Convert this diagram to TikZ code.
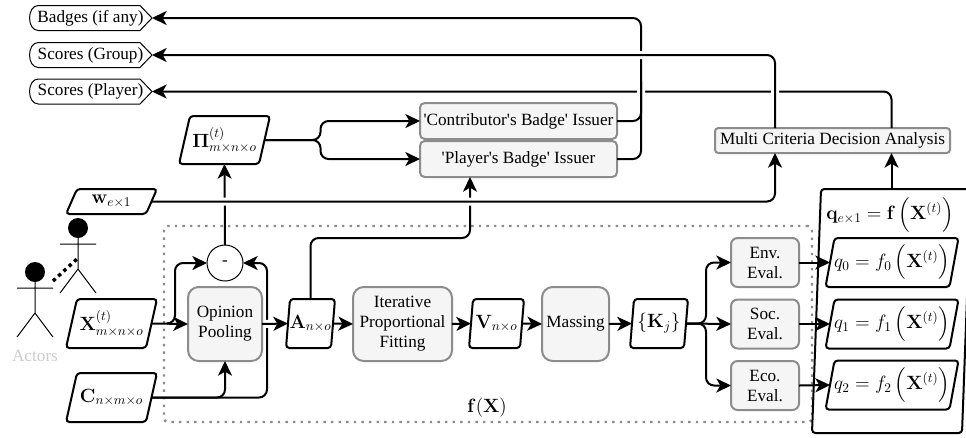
\documentclass[tikz,border=0pt]{standalone}
\usepackage[no-math]{fontspec}
\usepackage{amsmath}
\setmainfont{Liberation Serif}
\usetikzlibrary{arrows.meta, calc}
\definecolor{procfill}{HTML}{F5F5F5}
\definecolor{procline}{HTML}{8C8C8C}
\definecolor{actorgray}{HTML}{CCCCCC}
\tikzset
{
boxsize/.style 2 args={minimum width=#1*0.75pt, minimum height=#2*0.75pt},
base/.style={inner sep=0pt, outer sep=0pt, align=center, font=\fontsize{12.9}{15}\selectfont},
proc/.style={base, draw=procline, fill=procfill, line width=1.5pt, rounded corners=#1},
proc/.default=7pt,
datum/.style={base, font=\fontsize{13.6}{15}\selectfont, append after command={\pgfextra{
	\draw[line width=1.5pt, rounded corners=2.5pt]
	([xshift=-#1*0.375pt]\tikzlastnode.south west) -- ([xshift=#1*0.375pt]\tikzlastnode.north west)
	-- ([xshift=#1*0.375pt]\tikzlastnode.north east) -- ([xshift=-#1*0.375pt]\tikzlastnode.south east) -- cycle;
}}},
datum/.default=11,
qnode/.style={datum=9, font=\fontsize{14}{15}\selectfont},
output/.style={base, append after command={\pgfextra{
	\draw[line width=0.75pt]
	([xshift=7pt]\tikzlastnode.north west) -- ([xshift=-9pt]\tikzlastnode.north east)
	-- (\tikzlastnode.east) -- ([xshift=-9pt]\tikzlastnode.south east)
	-- ([xshift=7pt]\tikzlastnode.south west) to[out=180, in=180, looseness=1.2] cycle;
}}},
flow/.style={line width=1.5pt, rounded corners=6pt, -{Stealth[length=11pt, width=10.5pt, inset=3pt]}},
wire/.style={line width=1.5pt, rounded corners=6pt},
halo/.style={preaction={draw=white, line width=6pt, -, shorten >=8pt, shorten <=2pt}},
actor/.pic={
	\fill (0,0) circle (7.5pt);
	\draw[line width=0.75pt] (0,0) -- (0,41) (-18,16) -- (18,16) (-18,65) -- (0,41) -- (18,65);
	\coordinate (-reach) at (18,9);
	\coordinate (-waist) at (0,30);
}
}

\begin{document}
\begin{tikzpicture}[x=0.75pt, y=-0.75pt]
	\path[use as bounding box, clip] (0,0) rectangle (966,437);

	% f(X) frame
	\node[base, boxsize={648}{196}, draw=procline, line width=1.8pt, dash pattern=on 1.8pt off 3.9pt, rounded corners=3pt] (frame) at (488,324) {};
	\node[base, font=\fontsize{13.6}{15}\selectfont] (framelabel) at (487,408) {$\mathbf{f}(\mathbf{X})$};

	% Actors
	\pic (front) at (35,272) {actor};
	\pic (back) at (78,228) {actor};
	\node[base, text=actorgray] (actors) at (35,356) {Actors};
	\draw[line width=2.6pt, dash pattern=on 2.6pt off 2.8pt] (front-reach) -- (back-waist);

	% Outputs
	\node[output, boxsize={123}{25}] (badges) at (90.5,18) {Badges (if any)};
	\node[output, boxsize={123}{25}] (group) at (90.5,55) {Scores (Group)};
	\node[output, boxsize={123}{25}] (player) at (90.5,91.5) {Scores (Player)};

	% Inputs
	\node[datum, boxsize={80}{25}] (wvec) at (111.5,201.5) {$\mathbf{w}_{e\times 1}$};
	\node[datum, boxsize={80}{49}] (xmat) at (111.5,323.5) {$\mathbf{X}^{(t)}_{m\times n\times o}$};
	\node[datum, boxsize={80}{49}] (cmat) at (111.5,397.5) {$\mathbf{C}_{n\times m\times o}$};
	\node[datum, boxsize={80}{48}] (pimat) at (224.5,140) {$\mathbf{\Pi}^{(t)}_{m\times n\times o}$};

	% Processing chain
	\node[base, draw, circle, line width=0.75pt, minimum size=27pt] (diff) at (225,263) {-};
	\node[proc=8pt, boxsize={74}{74}] (pool) at (225,324) {Opinion\\Pooling};
	\node[datum=4, boxsize={45}{49}] (amat) at (310.5,323.5) {$\mathbf{A}_{n\times o}$};
	\node[proc=8pt, boxsize={99}{74}] (ipf) at (402.5,324) {Iterative\\Proportional\\Fitting};
	\node[datum=4, boxsize={51}{49}] (vmat) at (496.5,323.5) {$\mathbf{V}_{n\times o}$};
	\node[proc=8pt, boxsize={67}{74}] (massing) at (575.5,324) {Massing};
	\node[datum=4, boxsize={54}{49}] (kset) at (659,323.5) {$\{\mathbf{K}_j\}$};

	% Evaluations
	\node[proc=5pt, boxsize={68}{49}] (env) at (765,262.5) {Env.\\Eval.};
	\node[proc=5pt, boxsize={68}{49}] (soc) at (765,324) {Soc.\\Eval.};
	\node[proc=5pt, boxsize={68}{49}] (eco) at (765,385.5) {Eco.\\Eval.};

	% Criteria
	\node[datum=9, boxsize={150}{244}] (qbox) at (891.5,311) {};
	\node[base, font=\fontsize{14}{15}\selectfont] (qlabel) at (890,215) {$\mathbf{q}_{e\times 1}=\mathbf{f}\,\Bigl(\mathbf{X}^{(t)}\Bigr)$};
	\node[qnode, boxsize={124}{49}] (qzero) at (892,262.5) {$q_0=f_0\,\Bigl(\mathbf{X}^{(t)}\Bigr)$};
	\node[qnode, boxsize={124}{49}] (qone) at (892,324) {$q_1=f_1\,\Bigl(\mathbf{X}^{(t)}\Bigr)$};
	\node[qnode, boxsize={124}{49}] (qtwo) at (892,385) {$q_2=f_2\,\Bigl(\mathbf{X}^{(t)}\Bigr)$};

	% Issuers and decision
	\node[proc=3.5pt, boxsize={197}{36}] (contrib) at (518.5,121) {\textquotesingle Contributor\textquotesingle s Badge\textquotesingle{} Issuer};
	\node[proc=3.5pt, boxsize={197}{36}] (issuer) at (518.5,159) {\textquotesingle Player\textquotesingle s Badge\textquotesingle{} Issuer};
	\node[proc=2.5pt, boxsize={235}{25}] (mcda) at (832.5,140.5) {Multi Criteria Decision Analysis};

	% Wires going round the picture
	\draw[flow] (mcda.north -| qbox.north) |- (player.east);
	\draw[flow, halo] (issuer.east) -| ($(issuer.east)+(24,-70)$) |- (badges.east);
	\draw[wire] (contrib.east) -| ($(contrib.east)+(24,-40)$);
	\draw[flow, halo] ($(mcda.north)+(-57.5,0)$) |- (group.east);

	\draw[flow] (amat.north) |- ($(issuer.south)+(-48.5,61)$) -- ($(issuer.south)+(-48.5,0)$);
	\draw[flow] (diff.north) -- (pimat.south);
	\draw[flow, halo] (wvec.east) -| ($(mcda.south)+(-57.5,0)$);

	\draw[flow] (pimat.east) -- ++(56,0) |- (contrib.west);
	\draw[flow] (pimat.east) -- ++(56,0) |- (issuer.west);

	\draw[flow] (xmat.east) -- (pool.west);
	\draw[flow] ($(xmat.east)+(16,0)$) -- ++(7.5,0) |- (diff.west);
	\draw[flow] (cmat.east) -| (pool.south);
	\draw[flow] (cmat.east) -- ++(115.5,0) |- (diff.east);
	\draw[flow, halo] (pool.east) -- (amat.west);

	\path[flow] (amat.east) edge (ipf.west)
	(ipf.east) edge (vmat.west)
	(vmat.east) edge (massing.west)
	(massing.east) edge (kset.west)
	(kset.east) edge (soc.west)
	(env.east) edge (qzero.west)
	(soc.east) edge (qone.west)
	(eco.east) edge (qtwo.west)
	(qbox.north) edge (qbox.north |- mcda.south);
	\draw[flow] (kset.east) -- ++(20,0) |- (env.west);
	\draw[flow] (kset.east) -- ++(20,0) |- (eco.west);
\end{tikzpicture}
\end{document}
